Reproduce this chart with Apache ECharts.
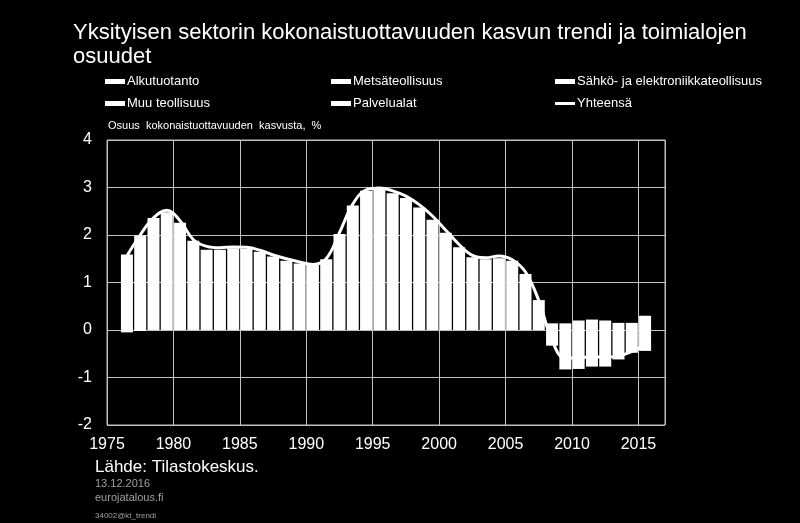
<!DOCTYPE html>
<html>
<head>
<meta charset="utf-8">
<script src="https://cdn.jsdelivr.net/npm/echarts@6/dist/echarts.min.js"></script>
<style>
html,body{margin:0;padding:0;background:#000;}
#c{width:800px;height:523px;}
</style>
</head>
<body>
<div id="c"></div>
<script>
// Years (bars drawn in the middle of each year)
var years = [1976,1977,1978,1979,1980,1981,1982,1983,1984,1985,
             1986,1987,1988,1989,1990,1991,1992,1993,1994,1995,
             1996,1997,1998,1999,2000,2001,2002,2003,2004,2005,
             2006,2007,2008,2009,2010,2011,2012,2013,2014,2015];
// Component contributions (all bars drawn in white; only stack extents are readable)
var alkutuotanto = [];
var metsateollisuus = [];
var sahkoElektroniikka = [-0.05,-0.02,0,0,0,0,0,0,0,0,
                          0,0,0,0,0,0,0,0,0,0,
                          0,0,0,0,0,0,0,0,0,0,
                          0,0,-0.33,-0.83,-0.82,-0.77,-0.77,-0.62,-0.48,-0.44];
var muuTeollisuus = [];
var palvelualat = [1.59,1.99,2.36,2.48,2.26,1.88,1.69,1.69,1.72,1.71,
                   1.65,1.55,1.46,1.40,1.37,1.49,2.02,2.62,2.93,2.97,
                   2.88,2.78,2.58,2.32,2.05,1.74,1.53,1.49,1.51,1.46,
                   1.18,0.63,0.14,0.14,0.20,0.22,0.20,0.15,0.15,0.30];
var yhteensa = [1.56,2.00,2.36,2.52,2.30,1.90,1.76,1.73,1.75,1.74,
                1.68,1.58,1.50,1.43,1.38,1.50,2.05,2.65,2.95,2.99,
                2.93,2.82,2.64,2.40,2.10,1.80,1.57,1.52,1.56,1.48,
                1.22,0.62,-0.22,-0.60,-0.58,-0.57,-0.57,-0.55,-0.45,-0.32];
var xTicks = [1975,1980,1985,1990,1995,2000,2005,2010,2015];
var yTicks = [-2,-1,0,1,2,3,4];

var names = ['Alkutuotanto','Metsäteollisuus','Sähkö- ja elektroniikkateollisuus',
             'Muu teollisuus','Palvelualat','Yhteensä'];

function pairs(arr){
  var out = [];
  for (var i = 0; i < arr.length; i++) out.push([years[i] + 0.5, arr[i]]);
  return out;
}
function barSeries(name, arr){
  return {
    name: name, type: 'bar', stack: 'tot', data: pairs(arr),
    barWidth: 12, itemStyle: {color: '#ffffff'}, emphasis: {disabled: true}
  };
}

var FONT = 'Liberation Sans, Arial, sans-serif';
var chart = echarts.init(document.getElementById('c'));
var legendText = {color: '#ffffff', fontSize: 13, fontFamily: FONT, padding: [0, 0, 0, -3]};
function legendCol(left, data){
  return {
    left: left, top: 75, orient: 'vertical', itemWidth: 20, itemHeight: 5,
    itemGap: 9, padding: 0, textStyle: legendText, data: data,
    selectedMode: false
  };
}
chart.setOption({
  backgroundColor: '#000000',
  animation: false,
  textStyle: {fontFamily: FONT},
  title: {
    text: 'Yksityisen sektorin kokonaistuottavuuden kasvun trendi ja toimialojen\nosuudet',
    left: 73, top: 21, padding: 0,
    textStyle: {color: '#ffffff', fontSize: 22, fontWeight: 'normal', lineHeight: 24,
                fontFamily: FONT}
  },
  legend: [
    legendCol(105, [{name: names[0], icon: 'rect'}, {name: names[3], icon: 'rect'}]),
    legendCol(331, [{name: names[1], icon: 'rect'}, {name: names[4], icon: 'rect'}]),
    legendCol(555, [{name: names[2], icon: 'rect'},
                    {name: names[5], icon: 'path://M0,0L20,0L20,3L0,3Z'}])
  ],
  grid: {left: 107, right: 135, top: 140, bottom: 98, show: true,
         borderColor: '#c0c0c0', borderWidth: 1, backgroundColor: 'transparent'},
  xAxis: {
    type: 'value', min: xTicks[0], max: 2017, interval: 5,
    axisLine: {show: false}, axisTick: {show: false},
    splitLine: {show: true, lineStyle: {color: '#c0c0c0', width: 1}},
    axisLabel: {color: '#ffffff', fontSize: 16, margin: 12, showMaxLabel: false,
                formatter: function(v){ return xTicks.indexOf(v) >= 0 ? String(v) : ''; }}
  },
  yAxis: {
    type: 'value', min: yTicks[0], max: yTicks[yTicks.length-1], interval: 1,
    axisLine: {show: false}, axisTick: {show: false},
    splitLine: {show: true, lineStyle: {color: '#c0c0c0', width: 1}},
    axisLabel: {color: '#ffffff', fontSize: 16, margin: 15}
  },
  graphic: [
    {type: 'text', left: 108, top: 120, style: {text: 'Osuus  kokonaistuottavuuden  kasvusta,  %',
      fill: '#ffffff', fontSize: 11, fontFamily: FONT}},
    {type: 'text', left: 95, top: 459, style: {text: 'Lähde: Tilastokeskus.',
      fill: '#ffffff', fontSize: 17, fontFamily: FONT}},
    {type: 'text', left: 95, top: 478, style: {text: '13.12.2016',
      fill: '#a0a0a0', fontSize: 11, fontFamily: FONT}},
    {type: 'text', left: 95, top: 492, style: {text: 'eurojatalous.fi',
      fill: '#a0a0a0', fontSize: 11, fontFamily: FONT}},
    {type: 'text', left: 95, top: 512, style: {text: '34002@kt_trendi',
      fill: '#a0a0a0', fontSize: 8, fontFamily: FONT}}
  ],
  series: [
    barSeries(names[0], alkutuotanto),
    barSeries(names[1], metsateollisuus),
    barSeries(names[2], sahkoElektroniikka),
    barSeries(names[3], muuTeollisuus),
    barSeries(names[4], palvelualat),
    {name: names[5], type: 'line', data: pairs(yhteensa), smooth: 0.4,
     symbol: 'none', z: 5, lineStyle: {color: '#ffffff', width: 3},
     itemStyle: {color: '#ffffff'}, emphasis: {disabled: true}}
  ]
});
</script>
</body>
</html>
